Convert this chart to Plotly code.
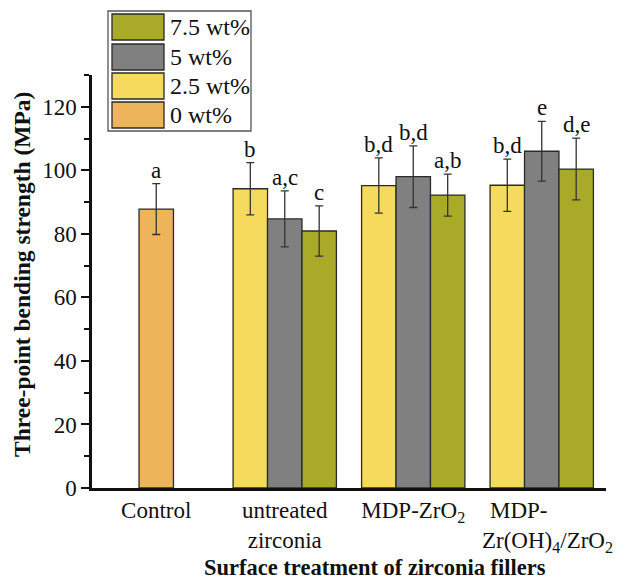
import plotly.graph_objects as go

categories = ["Control", "untreated<br>zirconia", "MDP-ZrO<sub>2</sub>",
              "MDP-\u00a0\u00a0\u00a0\u00a0\u00a0\u00a0\u00a0\u00a0<br>\u00a0\u00a0Zr(OH)<sub>4</sub>/ZrO<sub>2</sub>"]
series_names = ["0 wt%", "2.5 wt%", "5 wt%", "7.5 wt%"]
colors = ["#EDB45A", "#F5DA5E", "#808080", "#A9AA28"]

# means and standard deviations per series (one value per category; None = absent)
mean_0 = [87.8, None, None, None]
sd_0 = [8.0, None, None, None]
mean_25 = [None, 94.2, 95.2, 95.3]
sd_25 = [None, 8.2, 8.7, 8.2]
mean_5 = [None, 84.7, 98.0, 106.0]
sd_5 = [None, 8.8, 9.7, 9.4]
mean_75 = [None, 80.9, 92.2, 100.4]
sd_75 = [None, 7.9, 6.6, 9.7]

letters_0 = ["a", None, None, None]
letters_25 = [None, "b", "b,d", "b,d"]
letters_5 = [None, "a,c", "b,d", "e"]
letters_75 = [None, "c", "a,b", "d,e"]

x_title = "Surface treatment of zirconia fillers"
y_title = "Three-point bending strength (MPa)"

means = [mean_0, mean_25, mean_5, mean_75]
sds = [sd_0, sd_25, sd_5, sd_75]
letters = [letters_0, letters_25, letters_5, letters_75]

BW = 0.268
offsets = [-BW / 2, -1.5 * BW, -BW / 2, BW / 2]

FONT = "Liberation Serif"
TXT = "#111111"

# page has an 8px body margin: figure pixel = page pixel - 8
PAD = 8
W, H = 626 - PAD, 581 - PAD
L, R, T, B = 92 - PAD, 606 - PAD, 75 - PAD, 488 - PAD

def px(xp):
    return (xp - PAD - L) / (R - L)
def py(yp):
    return (B - (yp - PAD)) / (B - T)

fig = go.Figure()
for i in range(4):
    xs = [c for c, m in zip(categories, means[i]) if m is not None]
    ys = [m for m in means[i] if m is not None]
    es = [s for s in sds[i] if s is not None]
    fig.add_trace(go.Bar(
        x=xs, y=ys, name=series_names[i], width=BW, offset=offsets[i],
        marker=dict(color=colors[i], line=dict(color="#2a2a2a", width=1.3)),
        error_y=dict(type="data", array=es, color="#333333", thickness=1.3, width=4),
        showlegend=False,
    ))

annotations = []
for i in range(4):
    for j, lab in enumerate(letters[i]):
        if lab is None:
            continue
        annotations.append(dict(
            x=j + offsets[i] + BW / 2, y=means[i][j] + sds[i][j], xref="x", yref="y",
            text=lab, showarrow=False, yanchor="bottom", yshift=-1,
            font=dict(family=FONT, size=23, color=TXT),
        ))

# axis titles
annotations.append(dict(x=px(375), y=py(567), xref="paper", yref="paper",
                        text="<b>" + x_title + "</b>", showarrow=False,
                        xanchor="center", yanchor="middle",
                        font=dict(family=FONT, size=22.5, color=TXT)))
annotations.append(dict(x=px(22), y=py(275), xref="paper", yref="paper",
                        text="<b>" + y_title + "</b>", showarrow=False, textangle=-90,
                        xanchor="center", yanchor="middle",
                        font=dict(family=FONT, size=23.5, color=TXT)))

# manual legend
shapes = [dict(type="rect", xref="paper", yref="paper",
               x0=px(108), x1=px(251), y0=py(131), y1=py(11),
               line=dict(color="#555555", width=1.3), fillcolor="white")]
row_tops = [14, 44, 73, 102]
legend_order = [3, 2, 1, 0]
for r, idx in enumerate(legend_order):
    t = row_tops[r]
    shapes.append(dict(type="rect", xref="paper", yref="paper",
                       x0=px(112), x1=px(164), y0=py(t + 26), y1=py(t),
                       line=dict(color="#2a2a2a", width=1.3), fillcolor=colors[idx]))
    annotations.append(dict(x=px(168), y=py(t + 13), xref="paper", yref="paper",
                            text=series_names[idx], showarrow=False,
                            xanchor="left", yanchor="middle",
                            font=dict(family=FONT, size=24, color=TXT)))

fig.update_layout(
    width=W, height=H,
    margin=dict(l=L, r=W - R, t=T, b=H - B),
    paper_bgcolor="white", plot_bgcolor="white",
    barmode="overlay",
    font=dict(family=FONT, size=23, color=TXT),
    shapes=shapes, annotations=annotations,
    xaxis=dict(
        type="category", categoryorder="array", categoryarray=categories,
        range=[-0.5, 3.5], showline=True, linecolor=TXT, linewidth=2.5,
        ticks="", showgrid=False, zeroline=False, automargin=False, tickangle=0,
        tickfont=dict(family=FONT, size=23, color=TXT),
    ),
    yaxis=dict(
        range=[0, 130], tickvals=[0, 20, 40, 60, 80, 100, 120],
        showline=True, linecolor=TXT, linewidth=2.5, automargin=False,
        ticks="outside", ticklen=8, tickwidth=2, tickcolor=TXT,
        minor=dict(tickvals=[10, 30, 50, 70, 90, 110, 130], ticks="outside",
                   ticklen=5, tickwidth=2, tickcolor=TXT),
        showgrid=False, zeroline=False,
        tickfont=dict(family=FONT, size=23, color=TXT),
    ),
)

fig.write_html("out.html")
